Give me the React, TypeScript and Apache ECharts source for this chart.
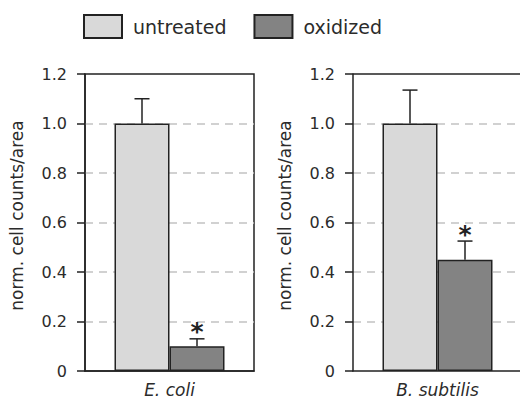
import React, { useEffect, useRef } from "react";
import * as echarts from "echarts";

// ---- data ----
const categories = ["E. coli", "B. subtilis"];
const seriesNames = ["untreated", "oxidized"];
const untreatedValues = [1.0, 1.0];
const untreatedErrors = [0.1, 0.135];
const oxidizedValues = [0.1, 0.45];
const oxidizedErrors = [0.03, 0.075];
const oxidizedSignificant = [true, true];
const yTicks = [0, 0.2, 0.4, 0.6, 0.8, 1.0, 1.2];
const yAxisTitle = "norm. cell counts/area";

// ---- style ----
const FONT = "DejaVu Sans";
const INK = "#222";
const TEXT = "#2b2b2b";
const FILLS = ["#d9d9d9", "#838383"];
const BAR_W = 55;
const GRID_LEFTS = [85, 353];
const GRID_TOP = 74;
const GRID_W = 169;
const GRID_H = 297;

export default function App() {
  const ref = useRef<HTMLDivElement>(null);

  useEffect(() => {
    if (!ref.current) return;
    const chart = echarts.init(ref.current, undefined, { renderer: "svg" });

    const grids: any[] = [];
    const xAxes: any[] = [];
    const yAxes: any[] = [];
    const series: any[] = [];
    const lineStyle = { color: INK, width: 1.5 };

    categories.forEach((cat, i) => {
      const fullFrame = i === 0;
      grids.push({
        left: GRID_LEFTS[i],
        top: GRID_TOP,
        width: GRID_W,
        height: GRID_H,
        show: fullFrame,
        borderColor: INK,
        borderWidth: 1.5,
        backgroundColor: "transparent",
        containLabel: false,
        outerBoundsMode: "none",
      });
      xAxes.push({
        type: "category",
        gridIndex: i,
        position: "bottom",
        data: [cat],
        axisTick: { show: false },
        axisLine: { show: true, onZero: false, lineStyle: { ...lineStyle } },
        axisLabel: {
          color: TEXT,
          fontFamily: FONT,
          fontStyle: "italic",
          fontSize: 17,
          margin: 10,
        },
        splitLine: { show: false },
      });
      yAxes.push({
        type: "value",
        gridIndex: i,
        position: "left",
        min: yTicks[0],
        max: yTicks[yTicks.length - 1],
        interval: yTicks[1] - yTicks[0],
        name: yAxisTitle,
        nameLocation: "middle",
        nameGap: 60,
        nameTextStyle: {
          color: TEXT,
          fontFamily: FONT,
          fontSize: 17,
          padding: [0, 0, 0, 14],
        },
        axisLine: { show: true, onZero: false, lineStyle: { ...lineStyle } },
        axisTick: { show: true, length: 8, lineStyle: { ...lineStyle } },
        axisLabel: {
          color: TEXT,
          fontFamily: FONT,
          fontSize: 16,
          margin: 18,
          formatter: (v: number) => (v === 0 ? "0" : v.toFixed(1)),
        },
        splitLine: {
          show: true,
          showMinLine: false,
          showMaxLine: false,
          lineStyle: { color: "#c2c2c2", width: 1.5, type: [8, 6] },
        },
      });

      const vals = [untreatedValues[i], oxidizedValues[i]];
      const errs = [untreatedErrors[i], oxidizedErrors[i]];
      const sigs = [false, oxidizedSignificant[i]];

      seriesNames.forEach((name, s) => {
        series.push({
          type: "bar",
          name,
          xAxisIndex: i,
          yAxisIndex: i,
          data: [vals[s]],
          barWidth: BAR_W,
          barGap: "0%",
          itemStyle: { color: FILLS[s], borderColor: INK, borderWidth: 1.5 },
          z: 2,
        });
      });

      if (!fullFrame) {
        // top frame line only (the panel runs past the right edge)
        series.push({
          type: "custom",
          xAxisIndex: i,
          yAxisIndex: i,
          silent: true,
          clip: false,
          z: 4,
          data: [[0, yTicks[yTicks.length - 1]]],
          renderItem: (params: any, api: any) => {
            const left = api.coord([0, yTicks[yTicks.length - 1]]);
            const size = api.size([1, 0]);
            const x0 = left[0] - size[0] / 2;
            return {
              type: "line",
              shape: { x1: x0, y1: left[1], x2: x0 + size[0], y2: left[1] },
              style: { stroke: INK, lineWidth: 1.5 },
            };
          },
        });
      }

      // error bars + significance marks
      series.push({
        type: "custom",
        xAxisIndex: i,
        yAxisIndex: i,
        silent: true,
        z: 3,
        data: seriesNames.map((_, s) => [
          0,
          vals[s],
          errs[s],
          (s === 0 ? -1 : 1) * (BAR_W / 2),
          sigs[s] ? 1 : 0,
        ]),
        renderItem: (params: any, api: any) => {
          const v = api.value(1);
          const e = api.value(2);
          const off = api.value(3);
          const sig = api.value(4);
          const base = api.coord([0, v]);
          const top = api.coord([0, v + e]);
          const x = base[0] + off;
          const ls = { stroke: INK, lineWidth: 1.5 };
          const children: any[] = [
            { type: "line", shape: { x1: x, y1: base[1], x2: x, y2: top[1] }, style: ls },
            { type: "line", shape: { x1: x - 7.5, y1: top[1], x2: x + 7.5, y2: top[1] }, style: ls },
          ];
          if (sig) {
            children.push({
              type: "text",
              x,
              y: top[1] - 7,
              style: {
                text: "*",
                fill: INK,
                fontFamily: FONT,
                fontSize: 25,
                fontWeight: "bold",
                align: "center",
                verticalAlign: "middle",
              },
            });
          }
          return { type: "group", children };
        },
      });
    });

    chart.setOption({
      animation: false,
      backgroundColor: "#ffffff",
      legend: {
        data: seriesNames,
        left: 83,
        top: 14,
        padding: 0,
        itemWidth: 38,
        itemHeight: 23,
        itemGap: 27,
        icon: "rect",
        itemStyle: { borderColor: INK, borderWidth: 2 },
        textStyle: {
          color: TEXT,
          fontFamily: FONT,
          fontSize: 19,
          padding: [0, 0, 0, 6],
        },
        selectedMode: false,
      },
      grid: grids,
      xAxis: xAxes,
      yAxis: yAxes,
      series,
    });

    return () => chart.dispose();
  }, []);

  return (
    <div
      ref={ref}
      style={{ position: "fixed", left: 0, top: 0, width: 540, height: 400 }}
    />
  );
}
